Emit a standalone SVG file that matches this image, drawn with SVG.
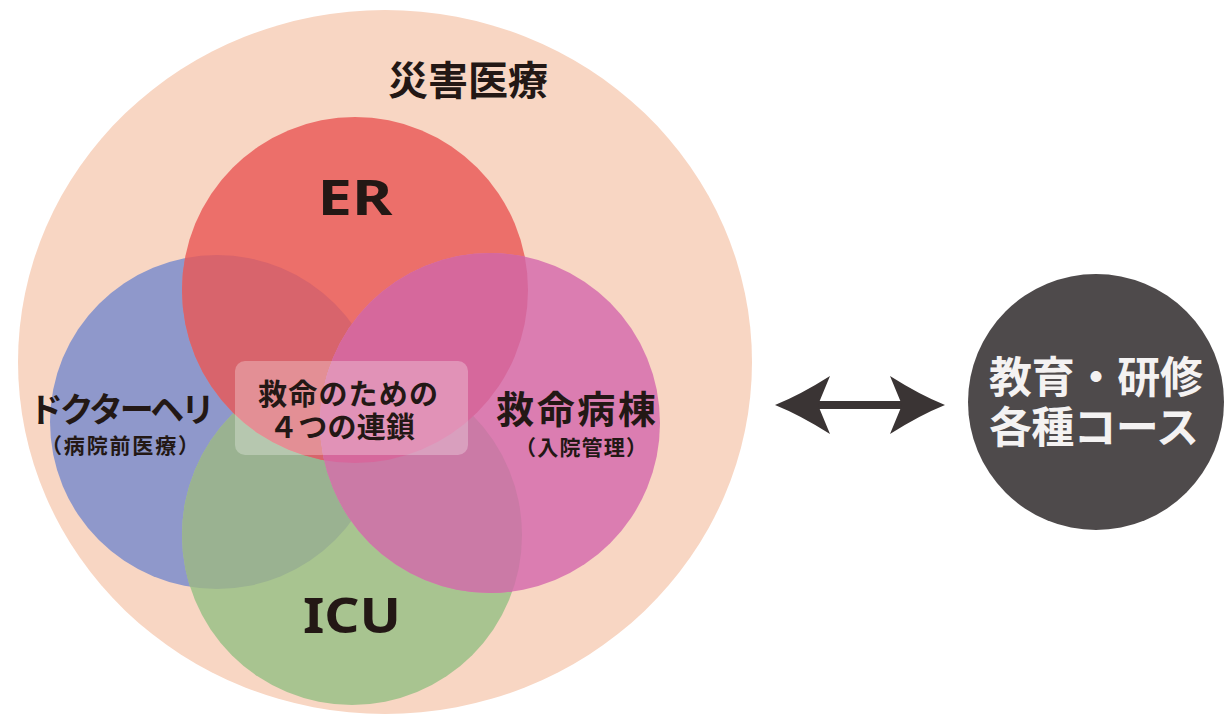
<svg xmlns="http://www.w3.org/2000/svg" width="1227" height="715" viewBox="0 0 1227 715">
  <style>
    .jp { font-family: "Liberation Sans", "Noto Sans CJK JP", "Noto Sans CJK SC", sans-serif; font-weight: 700; fill: #231815; text-anchor: middle; dominant-baseline: central; }
    .lat { font-family: "Noto Sans", "DejaVu Sans", sans-serif; font-weight: 700; fill: #231815; text-anchor: middle; }
    .wh { fill: #F4F2F2; }
  </style>
  <defs>
    <clipPath id="cBlue"><circle cx="217" cy="422" r="167"/></clipPath>
    <clipPath id="cRed"><circle cx="355" cy="290" r="173"/></clipPath>
    <clipPath id="cGreen"><circle cx="352" cy="535" r="170"/></clipPath>
    <marker id="ah" markerUnits="userSpaceOnUse" markerWidth="60" markerHeight="60" viewBox="-15 -30 60 60" refX="0" refY="0" orient="auto-start-reverse">
      <path d="M43,0 Q18,-10 -12,-29 L0,0 L-12,29 Q18,10 43,0 Z" fill="#3A3434"/>
    </marker>
  </defs>
  <rect width="1227" height="715" fill="#FFFFFF"/>

  <g id="disaster">
    <ellipse cx="385" cy="362" rx="367" ry="352" fill="#F8D6C3"/>
    <text class="jp" x="468" y="81" font-size="40" textLength="160">災害医療</text>
  </g>

  <g id="heli">
    <circle cx="217" cy="422" r="167" fill="#8F98CB"/>
  </g>
  <g id="icu">
    <circle cx="352" cy="535" r="170" fill="#A8C490"/>
    <circle cx="352" cy="535" r="170" fill="#9AB291" clip-path="url(#cBlue)"/>
  </g>
  <g id="er">
    <circle cx="355" cy="290" r="173" fill="#EC6F6A"/>
    <circle cx="355" cy="290" r="173" fill="#D8646C" clip-path="url(#cBlue)"/>
  </g>
  <g id="ward">
    <circle cx="490" cy="423" r="170" fill="#DB7DB1"/>
    <circle cx="490" cy="423" r="170" fill="#CB7AA6" clip-path="url(#cGreen)"/>
    <circle cx="490" cy="423" r="170" fill="#D6689C" clip-path="url(#cRed)"/>
  </g>

  <g id="labels">
    <text class="lat" x="355" y="215" font-size="48" textLength="75" lengthAdjust="spacingAndGlyphs">ER</text>
    <text class="lat" x="352" y="633" font-size="49" textLength="98" lengthAdjust="spacingAndGlyphs">ICU</text>
    <text class="jp" x="122" y="410" font-size="34" textLength="186">ドクターヘリ</text>
    <text class="jp" x="120" y="445" font-size="21" textLength="158">（病院前医療）</text>
    <text class="jp" x="576" y="410" font-size="38" textLength="160">救命病棟</text>
    <text class="jp" x="581" y="447" font-size="21" textLength="132">（入院管理）</text>
  </g>

  <g id="chain">
    <rect x="235" y="361" width="233" height="94" rx="10" fill="#FFFFFF" fill-opacity="0.28"/>
    <text class="jp" x="348" y="395" font-size="29" textLength="180">救命のための</text>
    <text class="jp" x="342" y="428" font-size="29" textLength="146">４つの連鎖</text>
  </g>

  <g id="connectors">
    <line x1="818" y1="405" x2="902" y2="405" stroke="#3A3434" stroke-width="8" marker-start="url(#ah)" marker-end="url(#ah)"/>
  </g>

  <g id="training">
    <circle cx="1096" cy="402" r="128" fill="#4E4A4B"/>
    <text class="jp wh" x="1096" y="378" font-size="43" textLength="214">教育・研修</text>
    <text class="jp wh" x="1094" y="428" font-size="43" textLength="210">各種コース</text>
  </g>
</svg>
